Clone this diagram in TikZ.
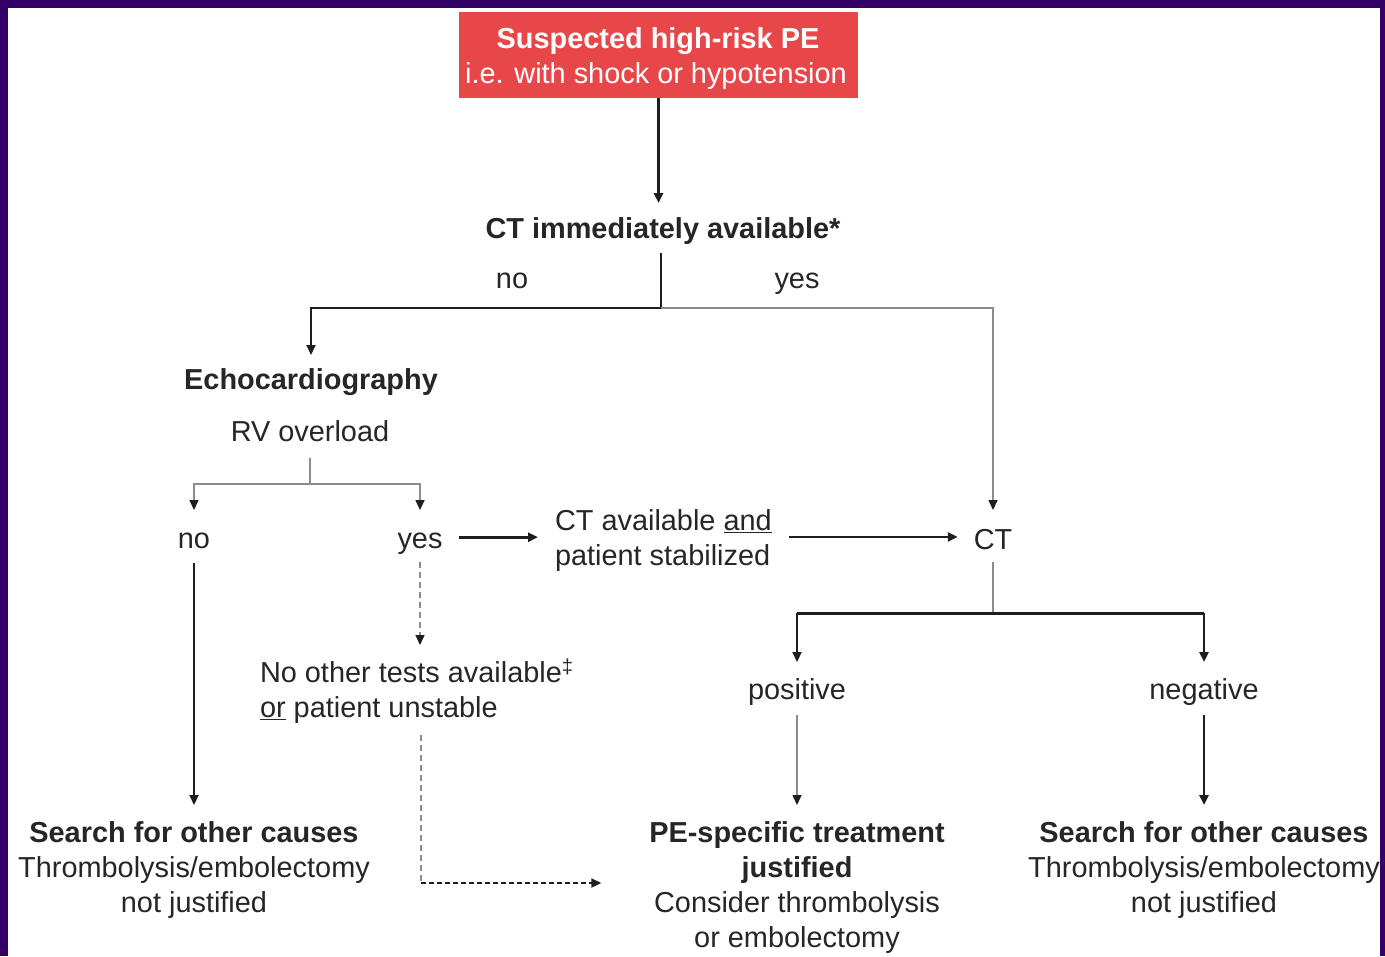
\documentclass[tikz,border=0pt]{standalone}
\usepackage{fontspec}
\setmainfont{Liberation Sans}
\usetikzlibrary{arrows.meta}
\definecolor{pebg}{HTML}{330066}
\definecolor{pered}{HTML}{E8474A}
\definecolor{dk}{HTML}{1E1E1E}
\definecolor{gr}{HTML}{8C8C8C}
\definecolor{txt}{HTML}{262626}
\begin{document}
\begin{tikzpicture}[x=1bp,y=-1bp,
  every node/.style={inner sep=0pt, outer sep=0pt, text=txt, font=\fontsize{29}{35}\selectfont},
  bt/.style={font=\fontsize{29}{35}\selectfont\bfseries},
  arr/.style={-{Triangle[length=10bp,width=9bp]}},
  arrd/.style={-{Triangle[length=10bp,width=9bp,color=dk]}},
  thk/.style={draw=dk, line width=2.8bp},
  mid/.style={draw=dk, line width=2bp},
  thn/.style={draw=gr, line width=1.6bp},
]
\fill[pebg] (0,0) rectangle (1385,956);
\fill[white] (8,8) rectangle (1380,956);
\useasboundingbox (0,0) rectangle (1385,956);

% nodes
\node[fill=pered, minimum width=399bp, minimum height=86bp] (top) at (658.5,55) {};
\node[bt, text=white, anchor=base] (topa) at (658,48) {Suspected high-risk PE};
\node[text=white, anchor=base] (topb) at (656,83) {i.e. with shock or hypotension};

\node[bt, anchor=base] (ct1) at (663,238) {CT immediately available*};
\node[anchor=base] (noA) at (512,288) {no};
\node[anchor=base] (yesA) at (797,288) {yes};

\node[bt, anchor=base] (echo) at (311,389) {Echocardiography};
\node[anchor=base] (rv) at (310,441) {RV overload};
\node[anchor=base] (noB) at (194,548) {no};
\node[anchor=base] (yesB) at (420,548) {yes};

\node[anchor=north west, align=left] (ctav) at (555,510) {CT available \underline{and}\\patient stabilized};
\node[anchor=base] (ct2) at (993,549) {CT};

\node[anchor=north west, align=left] (oth) at (260,662) {No other tests available\smash{\textsuperscript{‡}}\\\underline{or} patient unstable};
\node[anchor=base] (pos) at (797,699) {positive};
\node[anchor=base] (neg) at (1204,699) {negative};

\node[anchor=north, align=center] (res1) at (194,822) {\textbf{Search for other causes}\\Thrombolysis/embolectomy\\not justified};
\node[anchor=north, align=center] (res2) at (797,822) {\textbf{PE-specific treatment}\\\textbf{justified}\\Consider thrombolysis\\or embolectomy};
\node[anchor=north, align=center] (res3) at (1204,822) {\textbf{Search for other causes}\\Thrombolysis/embolectomy\\not justified};

% connectors
\draw[thk, arr] (top.south) -- ([yshift=35bp]top.south |- ct1.base);

\coordinate (jA) at (661,308);
\draw[mid] ([yshift=-15bp]jA |- ct1.base) -- (jA);
\draw[mid, arr] (jA) -| ([yshift=34bp]echo.base);
\draw[thn, arrd] (jA) -| ([yshift=39bp]ct2.base);

\coordinate (jB) at (310,484);
\draw[thn] ([yshift=-17bp]rv.base) -- (jB);
\draw[thn, arrd] (jB) -| ([yshift=38bp]noB.base);
\draw[thn, arrd] (jB) -| ([yshift=38bp]yesB.base);

\draw[mid, arr] ([yshift=-15bp]noB.base) -- ([yshift=17bp]noB.base |- res1.north);

\draw[thk, arr] ([xshift=17bp,yshift=6bp]yesB.east) -- ([xshift=-17bp,yshift=6bp]yesB.east -| ctav.west);
\draw[thk, arr] ([xshift=17bp,yshift=4bp]ctav.east) -- ([xshift=-16bp,yshift=4bp]ctav.east -| ct2.west);

\coordinate (jC) at (993,613);
\draw[thn] ([yshift=-13bp]ct2.base) -- (jC);
\draw[dk, line width=3bp] (jC -| pos.base) -- (jC -| neg.base);
\draw[mid, arr] (jC -| pos.base) -- ([yshift=37bp]pos.base);
\draw[thk, arr] (jC -| neg.base) -- ([yshift=37bp]neg.base);

\draw[thn, arrd] ([yshift=-16bp]pos.base) -- ([yshift=17bp]pos.base |- res2.north);
\draw[thk, arr] ([yshift=-16bp]neg.base) -- ([yshift=17bp]neg.base |- res3.north);

\draw[gr, line width=1.3bp, dash pattern=on 6bp off 4bp, arrd] ([yshift=-14bp]yesB.base) -- ([yshift=17bp]yesB.base |- oth.north);
\coordinate (jD) at (421,883);
\draw[gr, line width=1.3bp, dash pattern=on 6bp off 4bp] ([yshift=-11bp]jD |- oth.south) -- (jD);
\draw[dk, line width=2bp, dash pattern=on 5bp off 3bp, arr] (jD) -- ([xshift=-48bp]jD -| res2.west);
\end{tikzpicture}
\end{document}
